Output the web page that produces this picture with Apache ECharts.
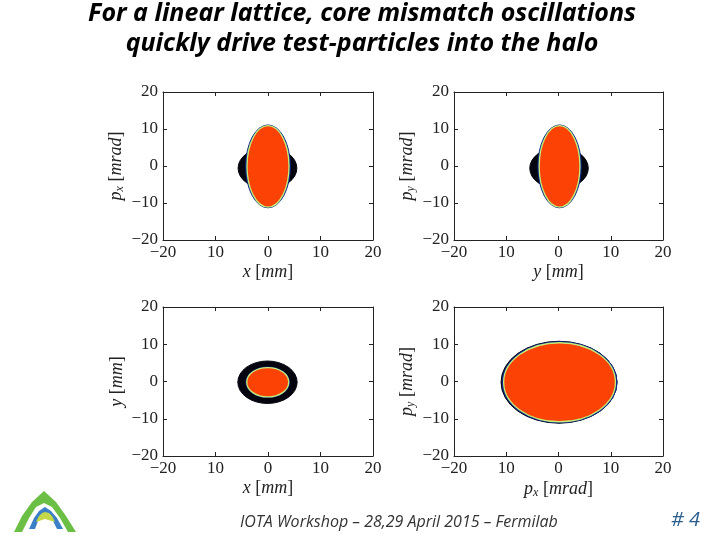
<!DOCTYPE html>
<html><head><meta charset="utf-8">
<script src="https://cdn.jsdelivr.net/npm/echarts@6/dist/echarts.min.js"></script>
<style>html,body{margin:0;padding:0;background:#fff}#c{width:720px;height:540px}</style>
</head><body><div id="c"></div>
<script>
// ---- data ----
const axisMin = -20, axisMax = 20, axisStep = 10;
const xTickLabels = ['−20', '10', '0', '10', '20'];
const yTickLabels = ['−20', '−10', '0', '10', '20'];
const titleLines = ['For a linear lattice, core mismatch oscillations', 'quickly drive test-particles into the halo'];
const footerText = 'IOTA Workshop – 28,29 April 2015 – Fermilab';
const pageNumber = '# 4';
// ellipses: [centerX, centerY, radiusX, radiusY]
const tlHalo = [-0.1, -0.6, 5.6, 5.6];
const tlEdge = [0.0, -0.1, 4.25, 11.2];
const tlCore = [0.0, -0.1, 4.0, 11.0];
const trHalo = [0.1, -0.6, 5.6, 5.6];
const trEdge = [0.2, -0.1, 4.15, 11.2];
const trCore = [0.2, -0.1, 3.9, 11.0];
const blHalo = [-0.1, -0.2, 5.65, 5.7];
const blEdge = [-0.05, -0.2, 4.15, 4.1];
const blCore = [-0.05, -0.2, 4.0, 3.95];
const brHalo = [0.1, -0.2, 11.1, 11.0];
const brEdge = [0.2, -0.2, 11.0, 10.9];
const brCore = [0.2, -0.2, 10.7, 10.6];
const xNames = ['{i|x} [{i|mm}]', '{i|y} [{i|mm}]', '{i|x} [{i|mm}]', '{i|p}{s|x} [{i|mrad}]'];
const yNames = ['{i|p}{s|x} [{i|mrad}]', '{i|p}{s|y} [{i|mrad}]', '{i|y} [{i|mm}]', '{i|p}{s|y} [{i|mrad}]'];

// ---- layout ----
const grids = [
  {left: 163, top: 92, width: 210, height: 148},
  {left: 454, top: 92, width: 209, height: 148},
  {left: 163, top: 307, width: 210, height: 149},
  {left: 454, top: 307, width: 209, height: 149}
];
const layers = [
  [tlHalo, tlEdge, tlCore],
  [trHalo, trEdge, trCore],
  [blHalo, blEdge, blCore],
  [brHalo, brEdge, brCore]
];
const haloColor = '#050510', edgeColor = '#0b2a8a', coreColor = '#fc4204', rimColor = '#c6ec7a';
const serif = 'Liberation Serif';
const tickIdx = v => Math.round((v - axisMin) / axisStep);
const nameRich = {
  i: {fontFamily: serif, fontStyle: 'italic', fontSize: 18, color: '#222'},
  s: {fontFamily: serif, fontStyle: 'italic', fontSize: 12, color: '#222', padding: [8, 0, 0, 0]}
};

const xAxis = [], yAxis = [], series = [];
grids.forEach((g, gi) => {
  const common = {min: axisMin, max: axisMax, interval: axisStep, gridIndex: gi,
    splitLine: {show: false}, axisLine: {show: true, onZero: false, lineStyle: {color: '#222', width: 1}},
    axisTick: {show: true, inside: true, length: 4, lineStyle: {color: '#222'}}};
  xAxis.push(Object.assign({}, common, {type: 'value', position: 'bottom',
    axisLabel: {margin: 4, fontFamily: serif, fontSize: 17, color: '#222', formatter: v => xTickLabels[tickIdx(v)], showMinLabel: true, showMaxLabel: true},
    name: xNames[gi], nameLocation: 'middle', nameGap: 23,
    nameTextStyle: {fontFamily: serif, fontSize: 18, color: '#222', rich: nameRich}}));
  xAxis.push(Object.assign({}, common, {type: 'value', position: 'top', axisLabel: {show: false}}));
  yAxis.push(Object.assign({}, common, {type: 'value', position: 'left',
    axisLabel: {margin: 5, fontFamily: serif, fontSize: 17, color: '#222', formatter: v => yTickLabels[tickIdx(v)], showMinLabel: true, showMaxLabel: true},
    name: yNames[gi], nameLocation: 'middle', nameGap: 37, nameRotate: 90,
    nameTextStyle: {fontFamily: serif, fontSize: 18, color: '#222', rich: nameRich}}));
  yAxis.push(Object.assign({}, common, {type: 'value', position: 'right', axisLabel: {show: false}}));

  const styles = [
    {fill: haloColor, stroke: haloColor, lineWidth: 1},
    {fill: edgeColor, stroke: edgeColor, lineWidth: 1},
    {fill: coreColor, stroke: rimColor, lineWidth: 1.3}
  ];
  layers[gi].forEach((item, li) => {
    series.push({
      type: 'custom', xAxisIndex: gi * 2, yAxisIndex: gi * 2, silent: true, clip: true,
      dimensions: ['cx', 'cy', 'rx', 'ry'],
      encode: {x: 0, y: 1},
      data: [item],
      renderItem: (params, api) => {
        const cx = api.value(0), cy = api.value(1), rx = api.value(2), ry = api.value(3);
        const pl = api.coord([cx - rx, cy]);
        const pr = api.coord([cx + rx, cy]);
        const pt = api.coord([cx, cy + ry]);
        const prx = (pr[0] - pl[0]) / 2, pry = pl[1] - pt[1];
        const d = `M ${pl[0]} ${pl[1]} A ${prx} ${pry} 0 1 0 ${pr[0]} ${pr[1]} A ${prx} ${pry} 0 1 0 ${pl[0]} ${pl[1]} Z`;
        return {type: 'path', shape: {pathData: d}, style: Object.assign({}, styles[li])};
      }
    });
  });
});

const chart = echarts.init(document.getElementById('c'), null, {renderer: 'canvas'});
chart.setOption({
  backgroundColor: '#ffffff',
  animation: false,
  grid: grids.map(g => Object.assign({containLabel: false}, g)),
  xAxis, yAxis, series,
  graphic: [
    {type: 'text', x: 362, y: -1, style: {text: titleLines.join('\n'), font: 'italic bold 25px "Noto Sans"', fill: '#000', align: 'center', lineHeight: 30}},
    {type: 'text', x: 240, y: 514, style: {text: footerText, font: 'italic 16px "Open Sans"', fill: '#333'}},
    {type: 'text', x: 671, y: 510, style: {text: pageNumber, font: 'italic 20px "Open Sans"', fill: '#2b5d8c'}},
    {type: 'polygon', shape: {points: [[14,532],[22,516],[32,502],[44,491],[56,502],[66,516],[76,532],[68,532],[60,518],[52,507],[44,503],[36,507],[29,518],[22,532]]}, style: {fill: '#6cbf45'}},
    {type: 'polygon', shape: {points: [[29,529],[34,518],[39,511],[45,507],[51,511],[57,518],[63,529],[57,529],[53,521],[49,517],[45,516],[41,517],[38,521],[35,529]]}, style: {fill: '#3b80c6'}},
    {type: 'polygon', shape: {points: [[36,522],[39,516],[42,513],[45,512],[49,513],[52,516],[55,522],[45,519]]}, style: {fill: '#c4d84a'}}
  ]
});
</script></body></html>
